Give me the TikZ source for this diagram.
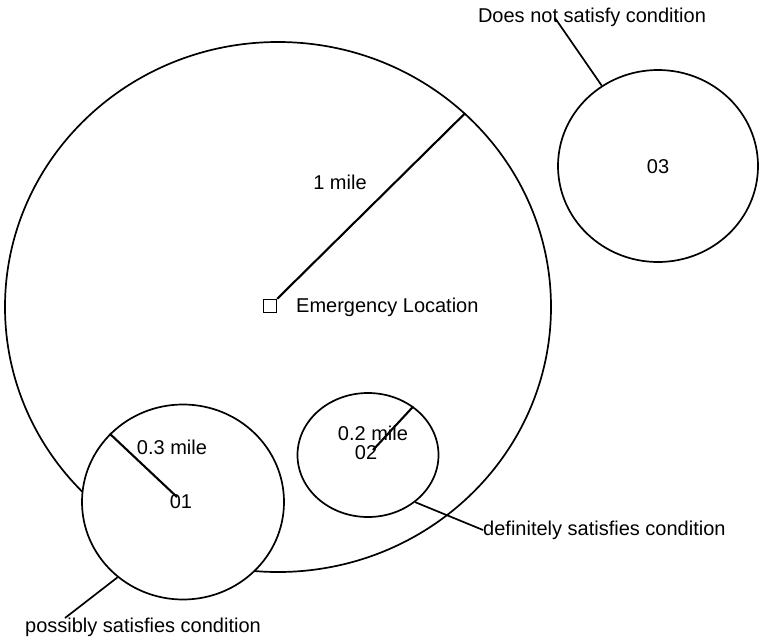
\documentclass[tikz,border=0pt]{standalone}
\usepackage{fontspec}
\setmainfont{Liberation Sans}
\usetikzlibrary{shapes.geometric}
\begin{document}
\begin{tikzpicture}[x=1pt,y=-1pt,
  ring/.style={draw, fill=white, ellipse, line width=1.7pt, inner sep=0pt},
  radius/.style={line width=2.1pt},
  leader/.style={line width=1.7pt},
  lbl/.style={font=\fontsize{20}{23}\selectfont, inner sep=0pt}]
\useasboundingbox (0,0) rectangle (760,640);
% circles
\node[ring, minimum width=546pt, minimum height=530pt] (big) at (278,307) {};
\node[ring, minimum width=200pt, minimum height=192pt] (c3) at (658,166) {};
\node[ring, minimum width=202pt, minimum height=195pt] (c1) at (183,502) {};
\node[ring, minimum width=141pt, minimum height=124pt] (c2) at (368,455) {};
% emergency location
\node[draw, line width=1.4pt, minimum size=13pt, inner sep=0pt] (sq) at (270,306) {};
\node[lbl, anchor=west] (em) at (296,307) {Emergency Location};
\draw[radius] (sq.north east) -- (big.46);
\node[lbl] (m1) at (340,182) {1 mile};
% circle 03
\node[lbl] (n3) at (658,167) {03};
\node[lbl] (t3) at (592,17) {Does not satisfy condition};
\coordinate (e3) at (555,18);
\draw[leader] (c3.125) -- (e3);
% circle 01
\node[lbl] (n1) at (181,502) {01};
\node[lbl] (m3) at (172,447) {0.3 mile};
\coordinate (r1) at (177,497);
\draw[radius] (r1) -- (c1.137);
\node[lbl] (t1) at (143,627) {possibly satisfies condition};
\coordinate (e1) at (65,618);
\draw[leader] (c1.229) -- (e1);
% circle 02
\node[lbl] (m2) at (373,433) {0.2 mile};
\node[lbl] (n2) at (366,453) {02};
\coordinate (r2) at (373,450);
\draw[radius] (r2) -- (c2.47);
\node[lbl, anchor=west] (t2) at (483,530) {definitely satisfies condition};
\draw[leader] (c2.315) -- (t2.west);
\end{tikzpicture}
\end{document}
